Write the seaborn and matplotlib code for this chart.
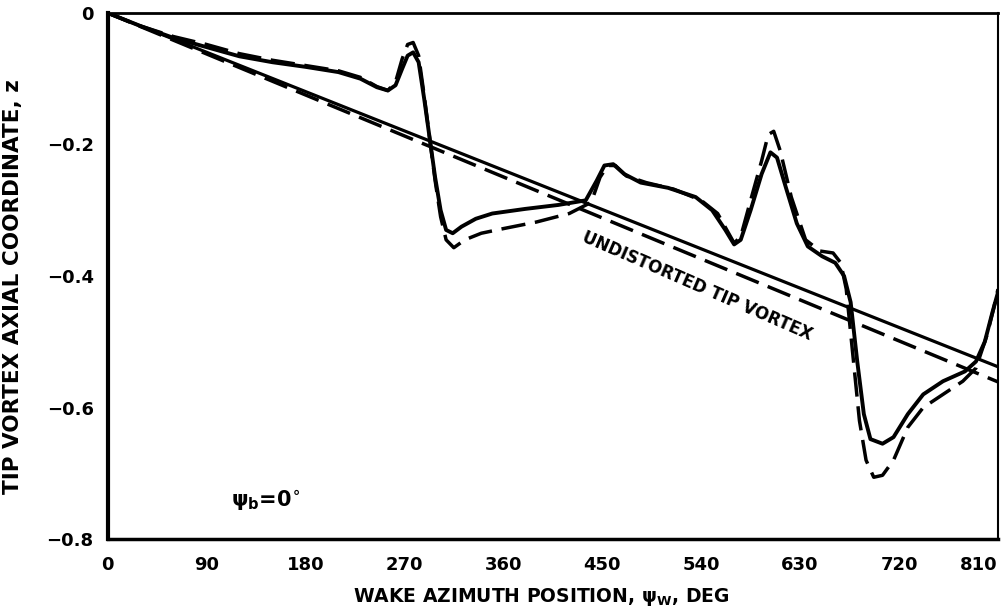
import numpy as np
import pandas as pd
import matplotlib
matplotlib.use("Agg")
import matplotlib.pyplot as plt
import seaborn as sns

# Tip vortex axial coordinate vs wake azimuth

# Undistorted tip vortex (straight reference lines)
undist_psi = [0, 810]
undist_solid_z = [0.0, -0.538]
undist_dash_z = [0.0, -0.561]

# Distorted tip vortex, solid curve
solid_psi = [0, 30, 60, 90, 120, 150, 180, 210, 230, 245, 255, 262, 268, 273, 278,
             283, 288, 293, 298, 303, 308, 314, 322, 335, 350, 380, 410, 435, 445,
             452, 460, 470, 485, 510, 535, 550, 562, 570, 576, 585, 595, 603, 609,
             617, 627, 637, 650, 662, 670, 676, 682, 688, 694, 705, 715, 728, 742,
             760, 780, 790, 798, 805, 810]
solid_z = [0.0, -0.020, -0.038, -0.052, -0.066, -0.075, -0.082, -0.090, -0.100,
           -0.113, -0.118, -0.110, -0.085, -0.065, -0.060, -0.075, -0.130, -0.190,
           -0.250, -0.300, -0.330, -0.335, -0.325, -0.313, -0.305, -0.298, -0.292,
           -0.285, -0.255, -0.232, -0.230, -0.245, -0.258, -0.266, -0.280, -0.300,
           -0.330, -0.352, -0.345, -0.300, -0.245, -0.212, -0.220, -0.265, -0.320,
           -0.355, -0.370, -0.380, -0.400, -0.440, -0.530, -0.610, -0.648, -0.655,
           -0.645, -0.610, -0.580, -0.560, -0.545, -0.530, -0.500, -0.455, -0.425]

# Distorted tip vortex, dashed curve
dash_psi = [0, 30, 60, 90, 120, 150, 180, 210, 230, 245, 255, 262, 268, 273, 278,
            283, 288, 293, 298, 303, 308, 315, 325, 340, 360, 390, 420, 440, 448,
            455, 462, 472, 490, 515, 540, 555, 565, 570, 576, 585, 595, 601, 606,
            612, 622, 635, 648, 660, 667, 672, 678, 684, 690, 697, 705, 715, 728,
            742, 760, 778, 790, 800, 806, 810]
dash_z = [0.0, -0.020, -0.036, -0.048, -0.062, -0.072, -0.080, -0.088, -0.098,
          -0.112, -0.118, -0.105, -0.070, -0.048, -0.045, -0.065, -0.125, -0.190,
          -0.255, -0.310, -0.345, -0.357, -0.345, -0.335, -0.328, -0.318, -0.305,
          -0.288, -0.250, -0.232, -0.232, -0.248, -0.258, -0.268, -0.285, -0.305,
          -0.335, -0.350, -0.340, -0.285, -0.225, -0.185, -0.180, -0.210, -0.280,
          -0.345, -0.362, -0.365, -0.380, -0.420, -0.520, -0.620, -0.680, -0.706,
          -0.703, -0.680, -0.630, -0.600, -0.580, -0.560, -0.540, -0.490, -0.450,
          -0.420]

x_ticks = [0, 90, 180, 270, 360, 450, 540, 630, 720, 810]
y_ticks = [0, -0.2, -0.4, -0.6, -0.8]
y_ticklabels = ["0", "\u22120.2", "\u22120.4", "\u22120.6", "\u22120.8"]

sns.set_style("white")
plt.rcParams['font.family'] = "DejaVu Sans"
plt.rcParams['font.weight'] = "bold"
plt.rcParams['text.color'] = 'black'
plt.rcParams['axes.labelcolor'] = 'black'
plt.rcParams['xtick.color'] = 'black'
plt.rcParams['ytick.color'] = 'black'

fig = plt.figure(figsize=(10.05, 6.14), dpi=100)
ax = fig.add_axes([0.107, 0.122, 0.886, 0.857])

dash_style = (0, (7, 2.8))

sns.lineplot(x=undist_psi, y=undist_solid_z, ax=ax, color='black', lw=2.3)
sns.lineplot(x=undist_psi, y=undist_dash_z, ax=ax, color='black', lw=2.5,
             linestyle=dash_style)
sns.lineplot(x=solid_psi, y=solid_z, ax=ax, color='black', lw=2.8, sort=False)
sns.lineplot(x=dash_psi, y=dash_z, ax=ax, color='black', lw=2.5, sort=False,
             linestyle=dash_style)

ax.set_xlim(0, 810)
ax.set_ylim(-0.8, 0)
ax.set_xticks(x_ticks)
ax.set_xticklabels([str(t) for t in x_ticks], fontsize=13, fontweight='heavy')
ax.get_xticklabels()[-1].set_horizontalalignment('right')
ax.set_yticks(y_ticks)
ax.set_yticklabels(y_ticklabels, fontsize=13, fontweight='heavy')
ax.set_yticks([-0.1, -0.3, -0.5, -0.7], minor=True)
ax.tick_params(axis='both', which='both', direction='in', length=9, width=2,
               color='black')
ax.tick_params(axis='x', pad=12)
ax.tick_params(axis='y', pad=10)

for side, w in [('left', 3), ('bottom', 2.5), ('top', 2), ('right', 1.5)]:
    ax.spines[side].set_visible(True)
    ax.spines[side].set_linewidth(w)
    ax.spines[side].set_color('black')

ax.set_xlabel(r"WAKE AZIMUTH POSITION, $\mathbf{\psi_W}$, DEG", fontsize=13.5,
              fontweight='heavy')
ax.xaxis.set_label_coords(0.487, -0.09)
ax.set_ylabel("TIP VORTEX AXIAL COORDINATE, z", fontsize=15.5,
              fontweight='heavy')
ax.yaxis.set_label_coords(-0.095, 0.48)

ax.text(536, -0.416, "UNDISTORTED TIP VORTEX", rotation=-23.5,
        rotation_mode='anchor', ha='center', va='center', fontsize=12,
        fontweight='heavy')
ax.text(112, -0.74, r"$\mathbf{\psi_b}$=0$^{\circ}$", fontsize=15,
        fontweight='heavy', ha='left', va='center')

fig.savefig("out.png", dpi=100)
